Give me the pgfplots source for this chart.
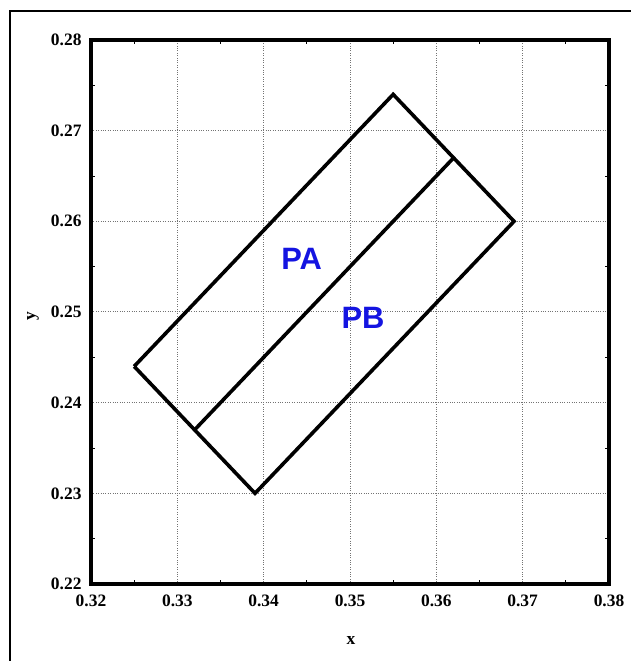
\documentclass[border=0pt]{standalone}
\usepackage{pgfplots}
\pgfplotsset{compat=1.18}
\usepackage{fontspec}
\setmainfont{Liberation Serif}
\newfontfamily\arialfont{Liberation Sans}
\definecolor{lblblue}{RGB}{20,20,225}
\begin{document}
\begin{tikzpicture}[x=1bp,y=1bp]
\path[use as bounding box] (0,0) rectangle (631,661);
\draw[line width=2.2bp] (10,0) -- (10,650) -- (631,650);
\begin{axis}[
  scale only axis,
  width=518bp, height=544bp,
  at={(91bp,77bp)}, anchor=south west,
  xmin=0.32, xmax=0.38, ymin=0.22, ymax=0.28,
  xtick={0.32,0.33,0.34,0.35,0.36,0.37,0.38},
  xticklabels={0.32,0.33,0.34,0.35,0.36,0.37,0.38},
  ytick={0.22,0.23,0.24,0.25,0.26,0.27,0.28},
  yticklabels={0.22,0.23,0.24,0.25,0.26,0.27,0.28},
  minor tick num=1,
  tick align=inside,
  major tick length=0pt,
  minor tick length=4bp,
  tick style={black, line width=0.8bp},
  grid=major,
  major grid style={black!55, dotted, line width=1bp},
  axis line style={line width=3.2bp},
  ticklabel style={font=\fontsize{17.5}{19}\selectfont\bfseries},
  /pgf/number format/assume math mode=true,
  xticklabel style={yshift=-7bp},
  yticklabel style={xshift=-6bp},
  clip=false,
]
\addplot[black, line width=3.6bp, line join=miter] coordinates {
  (0.325,0.244) (0.355,0.274) (0.369,0.260) (0.339,0.230) (0.325,0.244)
};
\addplot[black, line width=3.6bp] coordinates {
  (0.332,0.237) (0.362,0.267)
};
\node[text=lblblue, font=\arialfont\bfseries\fontsize{31}{34}\selectfont] at (axis cs:0.3444,0.2559) {PA};
\node[text=lblblue, font=\arialfont\bfseries\fontsize{31}{34}\selectfont] at (axis cs:0.3515,0.2493) {PB};
\end{axis}
\node[font=\fontsize{17.5}{19}\selectfont\bfseries] at (351,21) {x};
\node[font=\fontsize{17.5}{19}\selectfont\bfseries, rotate=90] at (33,345) {y};
\end{tikzpicture}
\end{document}
